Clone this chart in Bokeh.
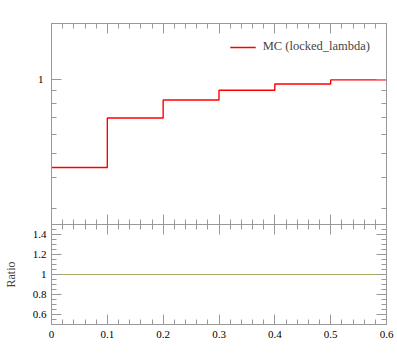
from bokeh.plotting import figure
from bokeh.layouts import column
from bokeh.models import (FixedTicker, LinearAxis, LogAxis, Range1d,
                          CustomJSTickFormatter, Legend)
from bokeh.embed import file_html
from bokeh.resources import INLINE

# ---- data ----
bin_edges = [0.0, 0.1, 0.2, 0.3, 0.4, 0.5, 0.6]
mc_values = [0.439, 0.698, 0.826, 0.905, 0.960, 0.997]
ratio_values = [1.0, 1.0, 1.0, 1.0, 1.0, 1.0]
series_label = "MC (locked_lambda)"

x_major = [0.0, 0.1, 0.2, 0.3, 0.4, 0.5, 0.6]
x_minor = [round(0.02 * i, 2) for i in range(31)]
top_major = [1.0]
top_minor = [0.3, 0.4, 0.5, 0.6, 0.7, 0.8, 0.9]
ratio_major = [0.6, 0.8, 1.0, 1.2, 1.4]
ratio_minor = [round(0.5 + 0.05 * i, 2) for i in range(21)]

FONT = "'Liberation Serif'"
AX = "#999999"
fmt = CustomJSTickFormatter(code="return String(+tick.toFixed(6));")

def style_axis(ax, show_labels):
    ax.axis_line_color = AX
    ax.major_tick_line_color = AX
    ax.minor_tick_line_color = AX
    ax.major_tick_in = 10
    ax.major_tick_out = 0
    ax.minor_tick_in = 5
    ax.minor_tick_out = 0
    ax.major_label_text_font = FONT
    ax.formatter = fmt
    if show_labels:
        ax.major_label_text_font_size = "11px"
        ax.major_label_text_color = "black"
        ax.major_label_standoff = 5
    else:
        ax.major_label_text_font_size = "0px"
        ax.major_label_text_color = None
        ax.major_label_standoff = 0

x_range = Range1d(0, 0.6)

# ---- top panel ----
p = figure(output_backend="svg", toolbar_location=None,
           frame_width=335, frame_height=201,
           min_border_left=49, min_border_right=13, min_border_top=23,
           min_border_bottom=0,
           x_range=x_range, y_range=Range1d(0.2576, 1.69),
           y_axis_type="log", x_axis_location=None, y_axis_location=None)
p.outline_line_color = None
p.xgrid.visible = False
p.ygrid.visible = False

for side, show in (("left", True), ("right", False)):
    ax = LogAxis(ticker=FixedTicker(ticks=top_major, minor_ticks=top_minor))
    style_axis(ax, show)
    if show:
        ax.major_label_standoff = 8
    p.add_layout(ax, side)
for side in ("above", "below"):
    ax = LinearAxis(ticker=FixedTicker(ticks=x_major, minor_ticks=x_minor))
    style_axis(ax, False)
    p.add_layout(ax, side)

xs = bin_edges
ys = mc_values + [mc_values[-1]]
r = p.step(xs, ys, mode="after", line_color="#ff0000", line_width=1.4)

leg = Legend(items=[(series_label, [r])], location="top_right")
leg.border_line_color = None
leg.background_fill_alpha = 0
leg.padding = 0
leg.margin = 16
leg.glyph_width = 26
leg.glyph_height = 10
leg.label_standoff = 7
leg.label_text_font = FONT
leg.label_text_font_size = "12.5px"
leg.label_height = 10
p.add_layout(leg)

# ---- ratio panel ----
q = figure(output_backend="svg", toolbar_location=None,
           frame_width=335, frame_height=100,
           min_border_left=49, min_border_right=13, min_border_top=0,
           min_border_bottom=34,
           x_range=x_range, y_range=Range1d(0.5, 1.5),
           x_axis_location=None, y_axis_location=None)
q.outline_line_color = None
q.xgrid.visible = False
q.ygrid.visible = False

for side, show in (("left", True), ("right", False)):
    ax = LinearAxis(ticker=FixedTicker(ticks=ratio_major, minor_ticks=ratio_minor))
    style_axis(ax, show)
    if show:
        ax.axis_label = "Ratio"
        ax.axis_label_text_font = FONT
        ax.axis_label_text_font_size = "12px"
        ax.axis_label_text_font_style = "normal"
        ax.axis_label_standoff = 12
        ax.major_label_standoff = 5
    q.add_layout(ax, side)
for side, show in (("above", False), ("below", True)):
    ax = LinearAxis(ticker=FixedTicker(ticks=x_major, minor_ticks=x_minor))
    style_axis(ax, show)
    if show:
        ax.major_label_standoff = 6
    q.add_layout(ax, side)

q.step(xs, ratio_values + [ratio_values[-1]], mode="after",
       line_color="#aaaa66", line_width=1.2)

layout = column(p, q, spacing=0)
open("out.html", "w").write(file_html(layout, INLINE))
